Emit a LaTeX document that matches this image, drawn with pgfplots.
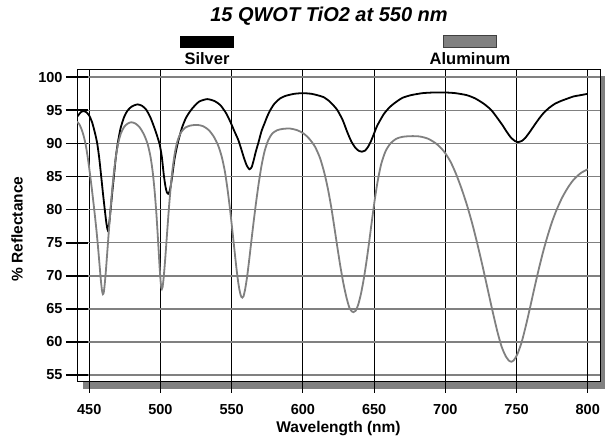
\documentclass[border=0pt]{standalone}
\usepackage{fontspec}
\setmainfont{Liberation Sans}
\usepackage{pgfplots}
\pgfplotsset{compat=1.18}
\definecolor{alu}{RGB}{128,128,128}
\definecolor{shadowgray}{RGB}{128,128,128}
\begin{document}
\begin{tikzpicture}[x=1pt,y=1pt]
\useasboundingbox (0,0) rectangle (605,436);
\fill[shadowgray] (83,47) rectangle (606,360);
\begin{axis}[
  at={(77pt,54pt)}, anchor=south west,
  scale only axis, width=523pt, height=312pt,
  xmin=441.4, xmax=808.6, ymin=53.94, ymax=101.1,
  xtick={450,500,...,800}, ytick={55,60,...,100},
  tick pos=left, tick align=center, major tick length=22pt,
  xmajorgrids, ymajorgrids,
  x grid style={black, line width=0.9pt},
  y grid style={alu, line width=1.6pt},
  x tick style={black, line width=0.9pt},
  y tick style={black, line width=1.8pt},
  axis line style={black, line width=1pt},
  axis background/.style={fill=white},
  /pgf/number format/assume math mode=true,
  /pgf/number format/1000 sep={},
  ticklabel style={font=\fontsize{14.5}{16}\selectfont\bfseries},
  xticklabel style={yshift=-8pt},
  xlabel={Wavelength (nm)},
  ylabel={\% Reflectance},
  label style={font=\fontsize{15.5}{17}\selectfont\bfseries},
  xlabel style={at={(axis description cs:0.5,-0.150)}, anchor=center},
  ylabel style={at={(axis description cs:-0.1147,0.49)}, anchor=center},
]
\addplot[black, line width=1.8pt, smooth, tension=0.4] coordinates {
(441.4,94.0) (444,94.7) (446,94.9) (448,94.7) (450,94.2) (452,93.2) (454,91.6)
(455.6,90.0) (457,87.8) (458.4,85.0) (459.7,82.3) (460.9,80.0) (462,78.0) (463,76.9)
(464,77.9) (465,80.0) (466.2,82.7) (467.3,85.0) (468.6,87.8) (470,90.0) (472,92.3)
(474.5,94.0) (477,95.0) (480,95.6) (483.7,95.9) (487,95.7) (490,95.1) (493,93.9)
(496,92.2) (498,90.9) (499.5,89.8) (501,87.9) (502.3,85.3) (503.5,83.5) (504.5,82.6)
(505.4,82.4) (506.3,82.7) (507.3,83.7) (508.2,85.0) (510,87.8) (512.1,90.0) (515,92.3)
(518,93.9) (522,95.2) (527,96.3) (532.8,96.7) (538,96.4) (542,95.8) (546,94.6)
(549,93.3) (552,91.8) (554.5,90.6) (556.5,89.3) (558.5,87.9) (560.5,86.7) (562.4,86.1)
(564,86.4) (565.5,87.5) (567,88.8) (569,90.3) (571,91.9) (573,93.0) (575,94.1)
(577,95.0) (580,96.0) (584,96.8) (588,97.2) (594,97.5) (600,97.6) (606,97.5)
(610,97.3) (614.5,97.0) (619,96.3) (624,95.1) (628,93.5) (631,91.8) (634,90.3)
(637,89.3) (639.5,88.85) (641.5,88.75) (643.5,88.9) (645.5,89.4) (647.5,90.2)
(649.6,91.3) (652,92.6) (654.5,93.6) (657,94.5) (661,95.5) (665,96.2) (670,96.9)
(676,97.3) (684,97.6) (692,97.7) (700,97.7) (707,97.6) (715,97.3) (721,96.8)
(727,96.0) (732,95.1) (736,94.0) (740,92.8) (743,91.8) (746,90.9) (749,90.35)
(751.3,90.2) (753.5,90.35) (756,90.8) (759.5,91.8) (763,92.9) (766,93.8) (769,94.6)
(773,95.4) (777,96.0) (781,96.4) (786,96.8) (790,97.1) (795,97.3) (800,97.5)
};
\addplot[alu, line width=1.8pt, smooth, tension=0.45] coordinates {
(441.4,93.3) (443,92.9) (444.5,92.2) (446,91.2) (447.5,89.8) (449,87.8) (450.5,85.4)
(452,82.8) (453.5,80.0) (455,77.0) (456.3,74.0) (457.4,71.2) (458.3,69.0) (459.0,67.7)
(459.6,67.2) (460.2,67.5) (460.9,68.8) (461.7,70.8) (462.6,73.4) (463.6,76.3)
(464.7,79.4) (465.9,82.5) (467.2,85.4) (468.7,88.0) (470.3,90.0) (472.2,91.5)
(474.5,92.5) (477,93.0) (479.5,93.2) (482.5,93.0) (485.5,92.4) (488.5,91.3)
(491,89.9) (493,88.0) (494.6,85.6) (495.9,82.8) (497.0,79.8) (497.9,76.8)
(498.7,73.9) (499.4,71.3) (500.1,69.2) (500.6,68.2) (501.0,68.0) (501.5,68.3)
(502.2,69.6) (503.0,71.6) (503.9,74.2) (504.9,77.2) (506.0,80.4) (507.2,83.4)
(508.6,86.3) (510.2,88.7) (512,90.4) (514.5,91.7) (517.5,92.4) (521,92.7)
(525.7,92.8) (530,92.6) (534,92.0) (537.5,91.0) (540.5,89.7) (543,88.0) (545.2,85.8)
(547,83.2) (548.7,80.3) (550.3,77.2) (551.8,74.2) (553.2,71.4) (554.6,69.0)
(555.8,67.5) (556.8,66.8) (557.5,66.7) (558.3,66.9) (559.4,67.9) (560.8,69.8)
(562.3,72.4) (563.9,75.4) (565.5,78.3) (567.2,81.2) (569,84.0) (571,86.7)
(573.2,88.9) (575.7,90.5) (578.5,91.5) (582,92.0) (586,92.2) (591,92.25) (596,92.0)
(600.5,91.5) (604.5,90.7) (608.5,89.5) (612,87.8) (615,85.6) (617.5,83.2)
(619.8,80.5) (621.9,77.6) (624,74.6) (626.1,71.7) (628.3,69.0) (630.5,66.8)
(632.6,65.2) (634.4,64.6) (635.5,64.5) (637,64.7) (638.8,65.6) (640.8,67.3)
(642.8,69.6) (644.8,72.4) (646.7,75.4) (648.5,78.4) (650.4,81.4) (652.5,84.3)
(655,86.9) (658,88.8) (661.5,90.0) (665.5,90.7) (670,91.0) (676,91.1) (682,91.05)
(688,90.7) (694,89.9) (699,88.8) (703.5,87.3) (707.5,85.4) (711.5,83.1) (715.3,80.6)
(719,77.8) (722.5,74.8) (726,71.6) (729.5,68.2) (733,64.8) (736.5,61.6) (739.5,59.3)
(742.5,57.8) (745,57.1) (746.5,57.0) (748,57.2) (750.5,58.1) (753.5,59.9)
(756.5,62.4) (759.5,65.2) (762.5,68.1) (765.5,70.9) (768.5,73.5) (771.5,75.8)
(774.7,78.0) (778,79.9) (782,81.8) (786,83.3) (790,84.5) (795,85.5) (800,86.1)
};
\end{axis}
\node[font=\fontsize{20}{22}\selectfont\bfseries\itshape] at (329,419.5) {15 QWOT TiO2 at 550 nm};
\fill[black] (180,388.3) rectangle (234,400.3);
\filldraw[fill=alu, draw=black!75, line width=0.8pt] (443,388.3) rectangle (496,400.3);
\node[font=\fontsize{16.5}{18}\selectfont\bfseries] at (207,377.5) {Silver};
\node[font=\fontsize{16.5}{18}\selectfont\bfseries] at (470,377.5) {Aluminum};
\end{tikzpicture}
\end{document}
